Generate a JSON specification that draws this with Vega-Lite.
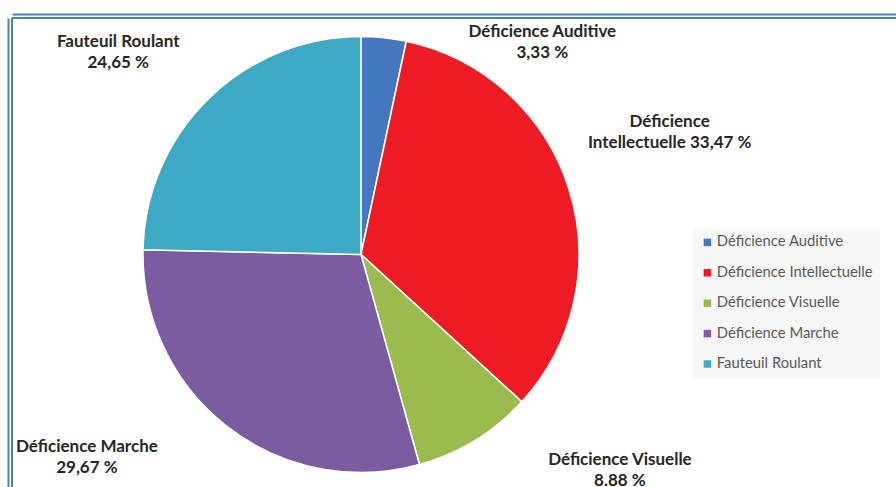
{
  "$schema": "https://vega.github.io/schema/vega-lite/v6.json",
  "autosize": "none",
  "width": 884,
  "height": 469,
  "padding": {"left": 12, "top": 18, "right": 0, "bottom": 0},
  "background": "white",
  "config": {
    "view": {"stroke": "#4a7ebf", "strokeWidth": 2, "strokeDash": [884, 1353, 469, 0]}
  },
  "data": {
    "values": [
      {"cat": "Déficience Auditive", "value": 3.33, "rank": 1, "label": "Déficience Auditive\n3,33 %"},
      {"cat": "Déficience Intellectuelle", "value": 33.47, "rank": 2, "label": "Déficience\nIntellectuelle 33,47 %"},
      {"cat": "Déficience Visuelle", "value": 8.88, "rank": 3, "label": "Déficience Visuelle\n8.88 %"},
      {"cat": "Déficience Marche", "value": 29.67, "rank": 4, "label": "Déficience Marche\n29,67 %"},
      {"cat": "Fauteuil Roulant", "value": 24.65, "rank": 5, "label": "Fauteuil Roulant\n24,65 %"}
    ]
  },
  "encoding": {
    "theta": {"field": "value", "type": "quantitative", "stack": true},
    "order": {"field": "rank", "type": "quantitative"}
  },
  "layer": [
    {
      "mark": {"type": "point", "opacity": 0},
      "encoding": {
        "x": {"datum": 0, "type": "quantitative", "scale": {"domain": [0, 1]},
              "axis": {"orient": "top", "offset": 4, "domainColor": "#4a7ebf", "domainWidth": 2, "ticks": false, "labels": false, "grid": false, "title": null}},
        "y": {"datum": 0, "type": "quantitative", "scale": {"domain": [0, 1]},
              "axis": {"orient": "left", "offset": 4, "domainColor": "#4a7ebf", "domainWidth": 2, "ticks": false, "labels": false, "grid": false, "title": null}}
      }
    },
    {
      "mark": {"type": "arc", "radius": 218, "stroke": "white", "strokeWidth": 1.5, "xOffset": -93, "yOffset": 2},
      "encoding": {
        "color": {
          "field": "cat", "type": "nominal",
          "scale": {
            "domain": ["Déficience Auditive", "Déficience Intellectuelle", "Déficience Visuelle", "Déficience Marche", "Fauteuil Roulant"],
            "range": ["#4477bd", "#ed1c24", "#9bbb4f", "#7b5ca0", "#3da9c4"]
          },
          "legend": {
            "orient": "none", "legendX": 681, "legendY": 210,
            "title": null, "fillColor": "#f7f7f7", "padding": 7,
            "symbolType": "square", "symbolSize": 56, "symbolStrokeWidth": 0,
            "labelFont": "Lato", "labelFontSize": 14.8, "labelColor": "#595959",
            "labelLimit": 300, "labelOffset": 2, "rowPadding": 14.4
          }
        }
      }
    },
    {
      "mark": {"type": "text", "radius": 300, "font": "Lato", "fontWeight": "bold", "fontSize": 17, "color": "#262626", "lineBreak": "\n", "lineHeight": 21, "align": "center", "baseline": "middle", "dx": 57, "dy": 78},
      "encoding": {"detail": {"field": "cat"}, "text": {"condition": {"test": "datum.cat === 'Déficience Auditive'", "field": "label"}, "value": ""}}
    },
    {
      "mark": {"type": "text", "radius": 300, "font": "Lato", "fontWeight": "bold", "fontSize": 17, "color": "#262626", "lineBreak": "\n", "lineHeight": 21, "align": "center", "baseline": "middle", "dx": -70, "dy": -39},
      "encoding": {"detail": {"field": "cat"}, "text": {"condition": {"test": "datum.cat === 'Déficience Intellectuelle'", "field": "label"}, "value": ""}}
    },
    {
      "mark": {"type": "text", "radius": 300, "font": "Lato", "fontWeight": "bold", "fontSize": 17, "color": "#262626", "lineBreak": "\n", "lineHeight": 21, "align": "center", "baseline": "middle", "dx": 9, "dy": -48},
      "encoding": {"detail": {"field": "cat"}, "text": {"condition": {"test": "datum.cat === 'Déficience Visuelle'", "field": "label"}, "value": ""}}
    },
    {
      "mark": {"type": "text", "radius": 300, "font": "Lato", "fontWeight": "bold", "fontSize": 17, "color": "#262626", "lineBreak": "\n", "lineHeight": 21, "align": "center", "baseline": "middle", "dx": -183, "dy": -42},
      "encoding": {"detail": {"field": "cat"}, "text": {"condition": {"test": "datum.cat === 'Déficience Marche'", "field": "label"}, "value": ""}}
    },
    {
      "mark": {"type": "text", "radius": 300, "font": "Lato", "fontWeight": "bold", "fontSize": 17, "color": "#262626", "lineBreak": "\n", "lineHeight": 21, "align": "center", "baseline": "middle", "dx": -126, "dy": 4},
      "encoding": {"detail": {"field": "cat"}, "text": {"condition": {"test": "datum.cat === 'Fauteuil Roulant'", "field": "label"}, "value": ""}}
    }
  ]
}
